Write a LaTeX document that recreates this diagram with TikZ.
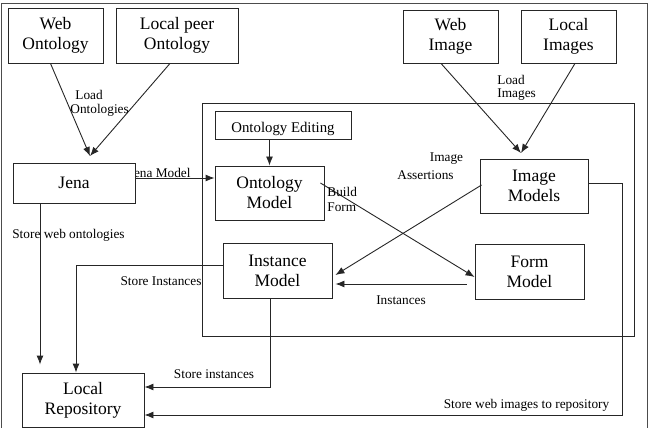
\documentclass[tikz,border=0pt]{standalone}
\usepackage{fontspec}
\setmainfont{Liberation Serif}
\usetikzlibrary{arrows.meta,calc}
\begin{document}
\begin{tikzpicture}[x=1pt,y=-1pt,
  line width=0.9pt, draw=black!85,
  box/.style={draw, fill=white, align=center, inner sep=0pt,
    font=\fontsize{17.5}{20}\selectfont},
  lbl/.style={inner sep=0pt, font=\fontsize{13.3}{15}\selectfont},
  arr/.style={-{Latex[length=9pt,width=7pt]}}]
\useasboundingbox (0,0) rectangle (649,428);
% outer frame
\draw[black!70] (1,3) rectangle (647,440);
% big container
\draw (202,103) rectangle (634,336);
% label drawn below Jena box (J hidden)
\node[lbl, anchor=base east] (ljm) at (191,177) {Jena Model};
% boxes
\node[box, minimum width=95pt, minimum height=55pt] (webont) at (55.5,35.5) {Web\\Ontology};
\node[box, minimum width=122pt, minimum height=55pt] (localont) at (177,35.5) {Local peer\\Ontology};
\node[box, minimum width=95pt, minimum height=53pt] (webimg) at (450.5,36.5) {Web\\Image};
\node[box, minimum width=95pt, minimum height=53pt] (localimg) at (568.5,36.5) {Local\\Images};
\node[box, minimum width=122pt, minimum height=40pt] (jena) at (74,183) {Jena};
\node[box, minimum width=136pt, minimum height=28pt, text height=14pt, text depth=0pt,
  font=\fontsize{14.8}{17}\selectfont] (ontedit) at (283,125) {Ontology Editing};
\node[box, minimum width=109pt, minimum height=54pt] (ontmodel) at (269.5,193) {Ontology\\Model};
\node[box, minimum width=108pt, minimum height=54pt] (imgmodels) at (534,186) {Image\\Models};
\node[box, minimum width=109pt, minimum height=55pt] (instmodel) at (277.5,270.5) {Instance\\Model};
\node[box, minimum width=109pt, minimum height=55pt] (formmodel) at (529.5,271.5) {Form\\Model};
\node[box, minimum width=122pt, minimum height=54pt] (localrepo) at (83,400) {Local\\Repository};
% coordinates
\coordinate (jenain) at (90,156);
\coordinate (imgin) at (521,153);
\coordinate (imgcorner) at (622,183);
% connectors
\draw[arr] ([xshift=-5pt]webont.south) -- (jenain);
\draw[arr] ([xshift=-7pt]localont.south) -- (jenain);
\draw[arr] ([xshift=-9.5pt]webimg.south) -- (imgin);
\draw[arr] ([xshift=6.5pt]localimg.south) -- (imgin);
\draw[arr] ([yshift=5pt]jena.east) -- ([yshift=5pt]jena.east -| ontmodel.west);
\draw[arr] (ontedit.south -| ontmodel.north) -- (ontmodel.north);
\draw[arr] ([xshift=-4pt,yshift=10pt]ontmodel.east) -- ([yshift=-5.5pt]formmodel.west);
\draw[arr] ([xshift=2pt,yshift=1pt]imgmodels.west) -- ([xshift=3pt,yshift=-4.5pt]instmodel.east);
\draw[arr] ([xshift=-8pt,yshift=-12.5pt]formmodel.west) -- ([xshift=3pt,yshift=-13.5pt]instmodel.east);
\draw[arr] ([yshift=5.5pt]instmodel.west) -| ([xshift=-7pt]localrepo.north);
\draw[arr] ([xshift=-34pt]jena.south) -- ([xshift=-43pt,yshift=8pt]localrepo.north);
\draw[arr] ([xshift=-7.5pt]instmodel.south) |- ([yshift=13pt]localrepo.east);
\draw[arr] ([yshift=3pt]imgmodels.east) -- (imgcorner) |- ([yshift=-15pt]localrepo.east);
% labels
\node[lbl, anchor=west] (lload) at (75,95) {Load};
\node[lbl, anchor=west] (lont) at (70,110) {Ontologies};
\node[lbl, anchor=west] (lload2) at (497,80) {Load};
\node[lbl, anchor=west] (limgs) at (497,95) {Images};
\node[lbl, anchor=west] (lbuild) at (327,192) {Build};
\node[lbl, anchor=west] (lform) at (327,207) {Form};
\node[lbl] (limage) at (446.5,159) {Image};
\node[lbl] (lassert) at (425.5,175) {Assertions};
\node[lbl] (linst) at (401,300) {Instances};
\node[lbl] (lstinst) at (161,281) {Store Instances};
\node[lbl] (lstweb) at (68.5,235) {Store web ontologies};
\node[lbl] (lstinst2) at (214,374) {Store instances};
\node[lbl] (lstimg) at (526.5,405) {Store web images to repository};
\end{tikzpicture}
\end{document}
